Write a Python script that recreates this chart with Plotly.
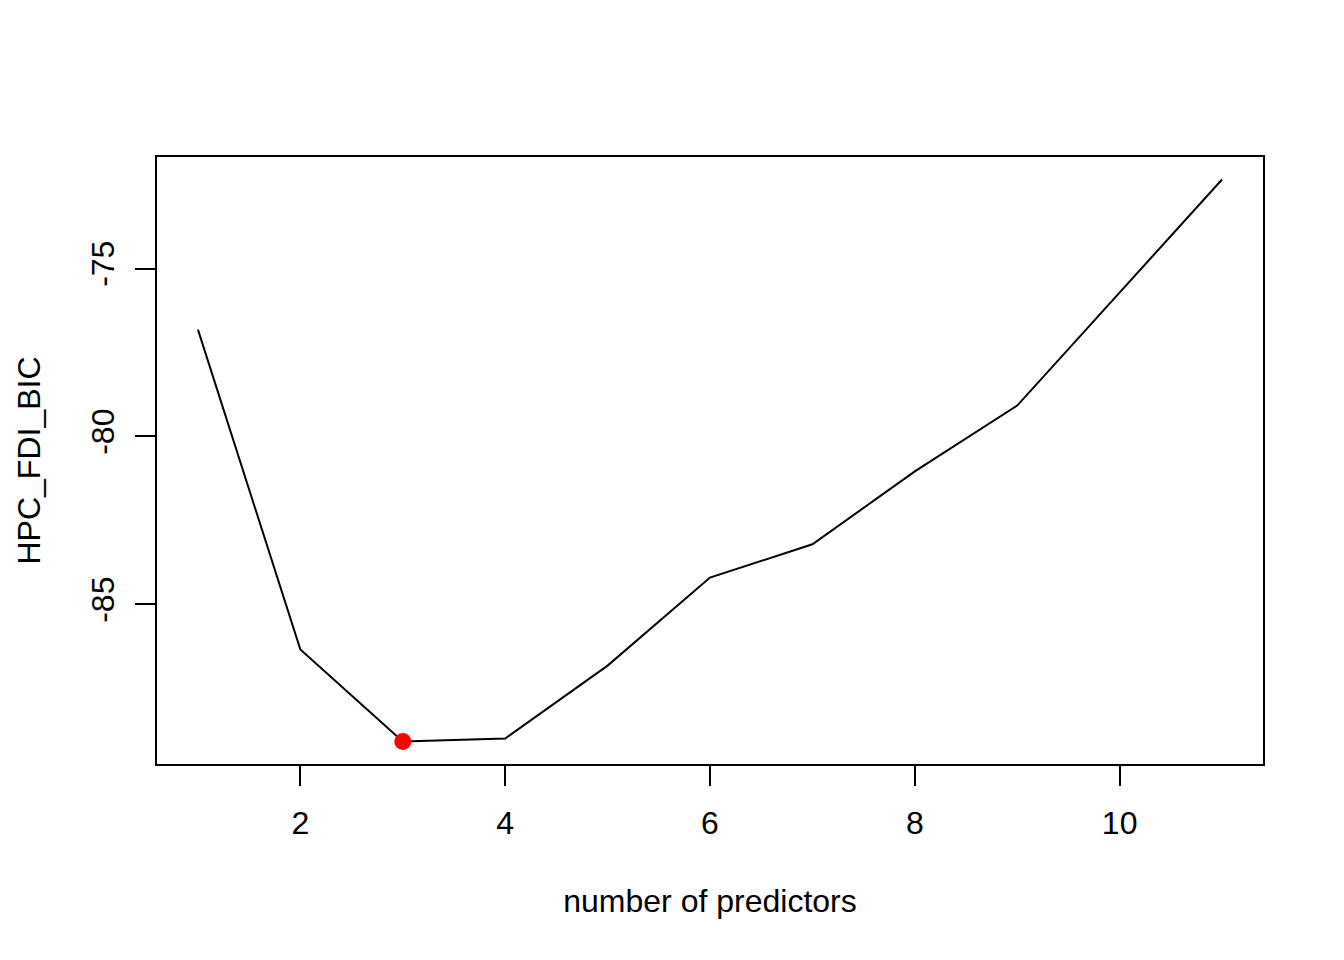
import plotly.graph_objects as go

n_predictors = [1, 2, 3, 4, 5, 6, 7, 8, 9, 10, 11]
bic_values = [-76.82, -86.34, -89.08, -88.99, -86.82, -84.20, -83.21, -81.04, -79.08, -75.72, -72.35]
best_idx = 2
x_ticks = [2, 4, 6, 8, 10]
y_ticks = [-85, -80, -75]

FONT = "Liberation Sans, Arial, sans-serif"

fig = go.Figure()
fig.add_trace(go.Scatter(x=n_predictors, y=bic_values, mode="lines",
                         line=dict(color="black", width=2), showlegend=False))
fig.add_trace(go.Scatter(x=[n_predictors[best_idx]], y=[bic_values[best_idx]], mode="markers",
                         marker=dict(color="red", size=17, line=dict(width=0)), showlegend=False))

xmin, xmax = min(n_predictors), max(n_predictors)
ymin, ymax = min(bic_values), max(bic_values)
xp = (xmax - xmin) * 0.04
yp = (ymax - ymin) * 0.04

fig.update_layout(
    width=1336, height=952,
    margin=dict(l=149, r=81, t=149, b=196),
    paper_bgcolor="white", plot_bgcolor="white",
    font=dict(family=FONT, size=32, color="black"),
    xaxis=dict(range=[xmin - xp, xmax + xp], tickvals=x_ticks, ticktext=[str(v) for v in x_ticks],
               ticks="outside", ticklen=20, tickwidth=2, tickcolor="black",
               tickfont=dict(size=32),
               showline=True, linewidth=2, linecolor="black", mirror=True,
               showgrid=False, zeroline=False,
               title=dict(text="number of predictors", standoff=49, font=dict(size=32)),
               ticklabelstandoff=10),
    yaxis=dict(range=[ymin - yp, ymax + yp], tickvals=y_ticks, ticktext=[str(v) for v in y_ticks],
               ticks="outside", ticklen=20, tickwidth=2, tickcolor="black", tickangle=-90,
               tickfont=dict(size=32),
               showline=True, linewidth=2, linecolor="black", mirror=True,
               showgrid=False, zeroline=False,
               title=dict(text="HPC_FDI_BIC", standoff=35, font=dict(size=32)),
               ticklabelstandoff=8),
)

fig.write_html("out.html")
